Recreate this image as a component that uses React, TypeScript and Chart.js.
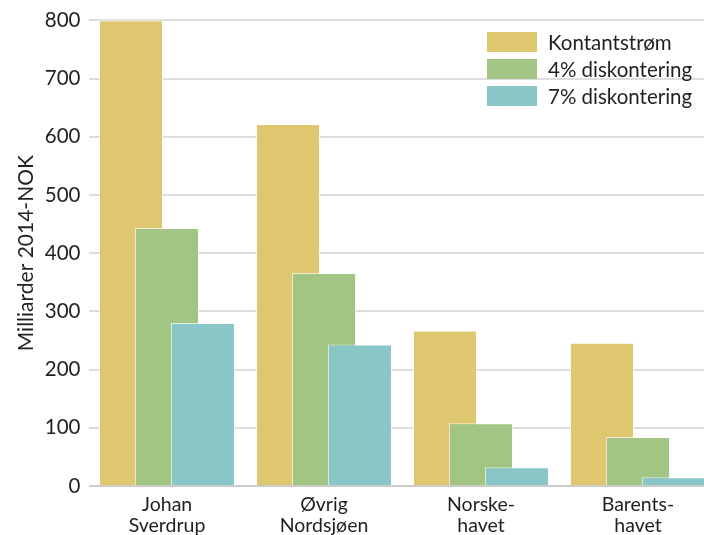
import React, { useEffect, useRef } from "react";
import { Chart, registerables } from "chart.js";

Chart.register(...registerables);

const categories: string[][] = [
  ["Johan", "Sverdrup"],
  ["Øvrig", "Nordsjøen"],
  ["Norske-", "havet"],
  ["Barents-", "havet"],
];
const seriesNames = ["Kontantstrøm", "4% diskontering", "7% diskontering"];
const kontantstrom = [800, 622, 267, 246];
const diskontering4 = [443, 366, 108, 84];
const diskontering7 = [280, 243, 32, 15];
const colors = ["#DEC76F", "#A3C584", "#89C6C7"];
const yTicks = [0, 100, 200, 300, 400, 500, 600, 700, 800];

const FONT = "Lato, 'Open Sans', sans-serif";
const TEXT = "#231f20";

// draw datasets in index order so later series overlap earlier ones
const drawOrderPlugin = {
  id: "drawOrder",
  beforeDatasetsDraw(chart: any) {
    const ctx = chart.ctx;
    const a = chart.chartArea;
    ctx.save();
    ctx.beginPath();
    ctx.rect(a.left, 0, chart.width, a.bottom);
    ctx.clip();
    for (let i = 0; i < chart.data.datasets.length; i++) {
      const meta = chart.getDatasetMeta(i);
      if (meta.visible !== false) meta.controller.draw();
    }
    ctx.restore();
    return false;
  },
};

const legendPlugin = {
  id: "customLegend",
  afterDraw(chart: any) {
    const ctx = chart.ctx;
    const x0 = 487;
    let y0 = 32;
    ctx.save();
    ctx.font = `20.5px ${FONT}`;
    ctx.textBaseline = "middle";
    chart.data.datasets.forEach((ds: any) => {
      ctx.fillStyle = ds.backgroundColor;
      ctx.fillRect(x0, y0, 50, 20);
      ctx.fillStyle = TEXT;
      ctx.fillText(ds.label, x0 + 61, y0 + 11);
      y0 += 27;
    });
    ctx.restore();
  },
};

export default function App() {
  const ref = useRef<HTMLCanvasElement | null>(null);
  useEffect(() => {
    if (!ref.current) return;
    const data = [kontantstrom, diskontering4, diskontering7];
    const chart = new Chart(ref.current, {
      type: "bar",
      data: {
        labels: categories,
        datasets: seriesNames.map((name, i) => ({
          label: name,
          data: data[i],
          backgroundColor: colors[i],
          borderColor: "rgba(255,255,255,0.7)",
          borderWidth: 1,
          barPercentage: 1.78,
          categoryPercentage: 0.688,
        })),
      },
      options: {
        responsive: false,
        animation: false,
        devicePixelRatio: 1,
        layout: { padding: { top: 18, right: 3.5, bottom: 0, left: 0 } },
        plugins: {
          legend: { display: false },
          tooltip: { enabled: false },
        },
        scales: {
          x: {
            grid: { display: false, drawTicks: false },
            border: { display: false },
            ticks: {
              color: TEXT,
              font: { family: FONT, size: 19.5, lineHeight: 1.1 },
              padding: 8,
              maxRotation: 0,
            },
            afterFit(scale: any) {
              scale.height = 49;
            },
          },
          y: {
            min: 0,
            max: 800,
            afterBuildTicks(scale: any) {
              scale.ticks = yTicks.map((v) => ({ value: v }));
            },
            grid: {
              color: (c: any) => (c.tick && c.tick.value === 0 ? "#cccccc" : "#dddddd"),
              lineWidth: 2,
              drawTicks: false,
            },
            border: { display: false },
            ticks: {
              color: TEXT,
              font: { family: FONT, size: 20.5 },
              padding: 8,
            },
            title: {
              display: true,
              text: "Milliarder 2014-NOK",
              color: TEXT,
              font: { family: FONT, size: 21 },
              padding: { top: 14, bottom: 4 },
            },
            afterFit(scale: any) {
              scale.width = 88.5;
            },
          },
        },
      },
      plugins: [drawOrderPlugin, legendPlugin],
    });
    return () => chart.destroy();
  }, []);
  return (
    <div
      style={{
        position: "absolute",
        left: 0,
        top: 0,
        width: 704,
        height: 535,
        overflow: "hidden",
        background: "#fff",
      }}
    >
      <canvas ref={ref} width={720} height={535} style={{ display: "block" }} />
    </div>
  );
}
